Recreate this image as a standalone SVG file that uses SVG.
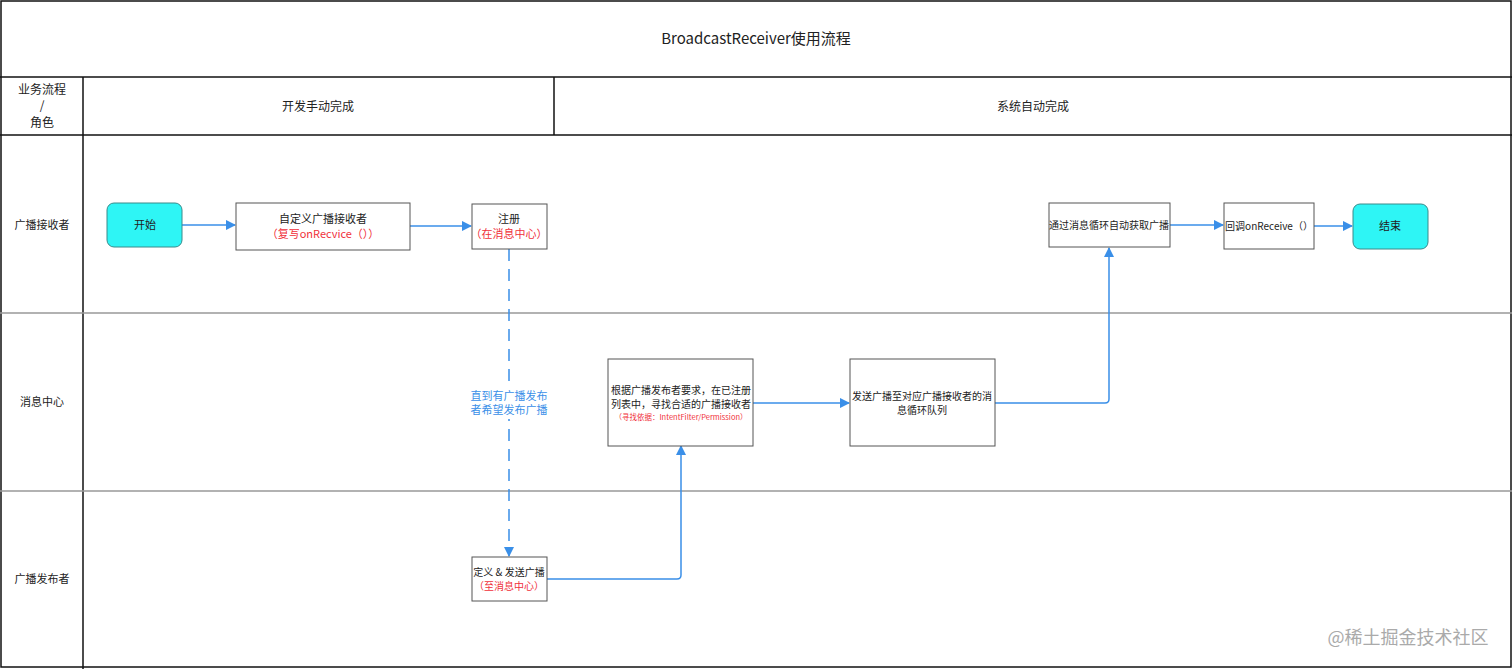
<svg xmlns="http://www.w3.org/2000/svg" width="1512" height="669" viewBox="0 0 1512 669">
<style>
text{font-family:"Noto Sans CJK SC","Liberation Sans",sans-serif;fill:#222;text-anchor:middle}
.grid{fill:none;stroke:#111;stroke-width:1.5}
.lane{fill:none;stroke:#999;stroke-width:1.5}
.box{fill:#fff;stroke:#555;stroke-width:1}
.term{fill:#2ef5f5;stroke:#3a8a8a;stroke-width:1}
.s{font-size:11px}
.t{font-size:10px}
.r{fill:#f0303a}
.c{fill:none;stroke:#3a8fe8;stroke-width:1.5}
</style>
<defs><marker id="a" viewBox="0 0 10 10" refX="9" refY="5" markerWidth="7" markerHeight="7" orient="auto"><path d="M0,0L10,5L0,10z" fill="#3a8fe8"/></marker></defs>
<rect width="1512" height="669" fill="#fff"/>
<g id="frame">
<rect class="grid" x="1" y="1" width="1510" height="666"/>
<line class="grid" x1="0" y1="77" x2="1512" y2="77"/>
<line class="grid" x1="0" y1="135" x2="1512" y2="135"/>
<line class="grid" x1="83" y1="77" x2="83" y2="669"/>
<line class="grid" x1="554" y1="77" x2="554" y2="135"/>
<line class="lane" x1="0" y1="313" x2="1512" y2="313"/>
<line class="lane" x1="0" y1="491" x2="1512" y2="491"/>
<text x="756" y="44" font-size="15">BroadcastReceiver使用流程</text>
<text x="42" y="94" font-size="12">业务流程</text>
<text x="42" y="110" font-size="12">/</text>
<text x="42" y="127" font-size="12">角色</text>
<text x="318" y="111" font-size="12">开发手动完成</text>
<text x="1033" y="111" font-size="12">系统自动完成</text>
<text x="42" y="229" class="s">广播接收者</text>
<text x="42" y="406" class="s">消息中心</text>
<text x="42" y="583" class="s">广播发布者</text>
</g>
<g id="connectors">
<line class="c" x1="182" y1="225" x2="235" y2="225" marker-end="url(#a)"/>
<line class="c" x1="410" y1="226" x2="471" y2="226" marker-end="url(#a)"/>
<line class="c" x1="509" y1="249" x2="509" y2="556" stroke-dasharray="12,8" marker-end="url(#a)"/>
<path class="c" d="M547,579H677Q681,579 681,575V446" marker-end="url(#a)"/>
<line class="c" x1="753" y1="403" x2="849" y2="403" marker-end="url(#a)"/>
<path class="c" d="M995,403H1105Q1109,403 1109,399V248" marker-end="url(#a)"/>
<line class="c" x1="1170" y1="225" x2="1223" y2="225" marker-end="url(#a)"/>
<line class="c" x1="1314" y1="226" x2="1352" y2="226" marker-end="url(#a)"/>
<rect x="472" y="387" width="76" height="32" fill="#fff"/>
<text x="509" y="400" class="s" style="fill:#3a8fe8">直到有广播发布</text>
<text x="509" y="414" class="s" style="fill:#3a8fe8">者希望发布广播</text>
</g>
<g id="start"><rect class="term" x="107" y="203" width="75" height="44" rx="7"/><text x="145" y="229" class="s">开始</text></g>
<g id="custom"><rect class="box" x="236" y="203" width="174" height="47"/><text x="323" y="223" class="s">自定义广播接收者</text><text x="323" y="238" class="s r">（复写onRecvice（））</text></g>
<g id="register"><rect class="box" x="472" y="204" width="75" height="45"/><text x="509" y="223" class="s">注册</text><text x="509" y="238" class="s r">（在消息中心）</text></g>
<g id="define"><rect class="box" x="472" y="557" width="75" height="44"/><text x="509" y="576" class="t">定义 &amp; 发送广播</text><text x="509" y="590" class="t r">（至消息中心）</text></g>
<g id="match"><rect class="box" x="608" y="359" width="145" height="87"/><text x="681" y="394" class="t">根据广播发布者要求，在已注册</text><text x="681" y="408" class="t">列表中，寻找合适的广播接收者</text><text x="681" y="420" font-size="7.5" class="r">（寻找依据：IntentFilter/Permission）</text></g>
<g id="send"><rect class="box" x="850" y="359" width="145" height="87"/><text x="922" y="400" class="t">发送广播至对应广播接收者的消</text><text x="922" y="414" class="t">息循环队列</text></g>
<g id="loop"><rect class="box" x="1049" y="203" width="121" height="44"/><text x="1109" y="229" class="t">通过消息循环自动获取广播</text></g>
<g id="callback"><rect class="box" x="1224" y="203" width="90" height="46"/><text x="1269" y="230" class="t">回调onReceive（）</text></g>
<g id="end"><rect class="term" x="1353" y="204" width="75" height="45" rx="7"/><text x="1390" y="230" class="s">结束</text></g>
<text x="1408" y="644" font-size="18" style="fill:#aaa">@稀土掘金技术社区</text>
</svg>
